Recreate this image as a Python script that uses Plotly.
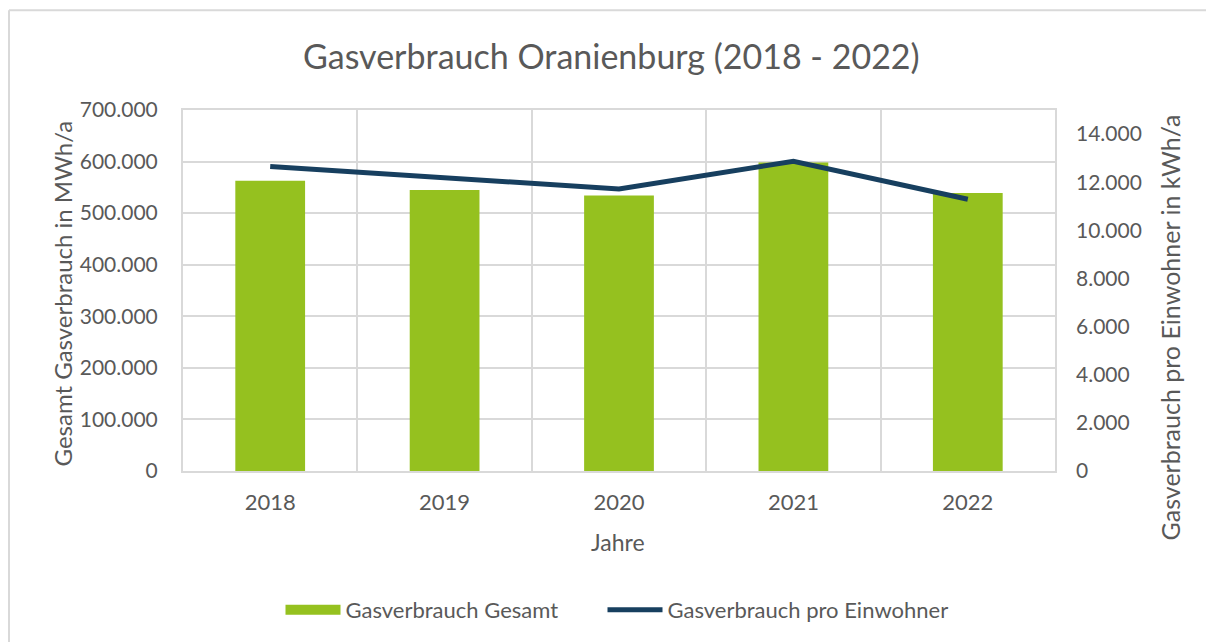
import plotly.graph_objects as go

years = ["2018", "2019", "2020", "2021", "2022"]
gesamt_mwh = [563000, 545000, 534000, 598000, 539000]
pro_einwohner_kwh = [12650, 12200, 11720, 12870, 11290]
left_ticks = [0, 100000, 200000, 300000, 400000, 500000, 600000, 700000]
right_ticks = [0, 2000, 4000, 6000, 8000, 10000, 12000, 14000]

GREEN = "#95C11F"
NAVY = "#173F5F"
GRID = "#D9D9D9"
TXT = "#595959"
FONT = "Lato"

# the page body adds an 8px offset; work in window pixels and subtract it
OFF = 8
W, H = 1214 - OFF, 642 - OFF
PL, PR, PT, PB = 183, 1055, 110, 472  # plot area in window pixels
L, R, T, B = PL - OFF, W - (PR - OFF), PT - OFF, H - (PB - OFF)
pw, ph = W - L - R, H - T - B

def px_x(p):
    return (p - OFF - L) / pw

def px_y(p):
    return (H - B - (p - OFF)) / ph

xs = list(range(len(years)))
NB = "\u00a0"

fig = go.Figure()
fig.add_trace(go.Bar(x=xs, y=gesamt_mwh, name="Gasverbrauch Gesamt",
                     marker=dict(color=GREEN, line=dict(width=0)), width=0.4,
                     yaxis="y", showlegend=False))
# legend entry for the bars (wide rectangle swatch as in the original)
fig.add_trace(go.Scatter(x=[None], y=[None], name="Gasverbrauch Gesamt" + NB * 7,
                         mode="lines", line=dict(color=GREEN, width=14),
                         yaxis="y", showlegend=True))
fig.add_trace(go.Scatter(x=xs, y=pro_einwohner_kwh, name="Gasverbrauch pro Einwohner",
                         mode="lines", line=dict(color=NAVY, width=5),
                         yaxis="y2"))

fig.update_layout(
    width=W, height=H,
    margin=dict(l=L, r=R, t=T, b=B),
    paper_bgcolor="white", plot_bgcolor="white",
    separators=",.",
    font=dict(family=FONT, color=TXT, size=20),
    showlegend=True,
    legend=dict(orientation="h", x=px_x(617), y=px_y(610), xanchor="center",
                yanchor="middle", font=dict(size=22, color=TXT),
                itemwidth=55, tracegroupgap=0, traceorder="normal"),
    xaxis=dict(range=[-0.5, 4.5], tickmode="array", tickvals=xs, ticktext=years,
               showgrid=False, showline=True, linecolor=GRID, linewidth=2,
               mirror=True, zeroline=False, ticks="",
               tickfont=dict(size=22, color=TXT), ticklabelstandoff=11,
               minor=dict(tick0=-0.5, dtick=1, showgrid=True, gridcolor=GRID,
                          gridwidth=2, ticks="")),
    yaxis=dict(range=[0, 700000], tickmode="array", tickvals=left_ticks,
               tickformat=",d", showgrid=True, gridcolor=GRID, gridwidth=2,
               zeroline=False, showline=True, linecolor=GRID, linewidth=2,
               mirror=True, ticks="", tickfont=dict(size=21, color=TXT),
               ticklabelstandoff=19),
    yaxis2=dict(range=[0, 15000], tickmode="array", tickvals=right_ticks,
                tickformat=",d", overlaying="y", side="right", showgrid=False,
                zeroline=False, showline=False, ticks="",
                tickfont=dict(size=21, color=TXT), ticklabelstandoff=20),
    annotations=[
        dict(text="Gasverbrauch Oranienburg (2018 - 2022)", xref="paper", yref="paper",
             x=px_x(611), y=px_y(55), xanchor="center", yanchor="middle",
             showarrow=False, font=dict(size=34, color=TXT, family=FONT)),
        dict(text="Gesamt Gasverbrauch in MWh/a", xref="paper", yref="paper",
             x=px_x(62), y=px_y(294), xanchor="center", yanchor="middle",
             textangle=-90, showarrow=False, font=dict(size=24, color=TXT, family=FONT)),
        dict(text="Gasverbrauch pro Einwohner in kWh/a", xref="paper", yref="paper",
             x=px_x(1170), y=px_y(328), xanchor="center", yanchor="middle",
             textangle=-90, showarrow=False, font=dict(size=25, color=TXT, family=FONT)),
        dict(text="Jahre", xref="paper", yref="paper",
             x=px_x(618), y=px_y(543), xanchor="center", yanchor="middle",
             showarrow=False, font=dict(size=23, color=TXT, family=FONT)),
    ],
    shapes=[
        dict(type="line", xref="paper", yref="paper", x0=px_x(9), x1=px_x(9),
             y0=px_y(10), y1=px_y(660), line=dict(color=GRID, width=2), layer="below"),
        dict(type="line", xref="paper", yref="paper", x0=px_x(9), x1=px_x(1230),
             y0=px_y(10), y1=px_y(10), line=dict(color=GRID, width=2), layer="below"),
    ],
)

fig.write_html("out.html")
